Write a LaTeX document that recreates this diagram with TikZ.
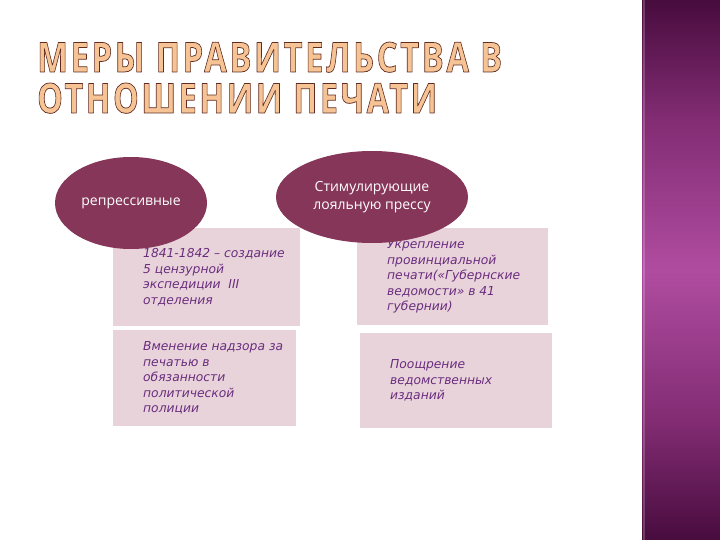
\documentclass[tikz,border=0pt]{standalone}
\usepackage{fontspec}
\usepackage{xcolor}
\usetikzlibrary{shapes.geometric}
\newfontfamily\titlefont[LetterSpace=8]{Open Sans}
\newfontfamily\ovalfont{Open Sans}
\newfontfamily\boxfont{DejaVu Sans}
\definecolor{ovalred}{RGB}{134,54,88}
\definecolor{boxpink}{RGB}{233,211,219}
\definecolor{boxtext}{RGB}{105,45,125}
\definecolor{titlefill}{RGB}{246,196,148}
\definecolor{bardark}{RGB}{72,12,62}
\definecolor{barhalf}{RGB}{130,44,115}
\definecolor{barmid}{RGB}{176,76,160}
\pgfdeclareverticalshading{barshade}{100bp}{
  color(0bp)=(bardark); color(25bp)=(bardark); color(36bp)=(barhalf);
  color(50bp)=(barmid); color(64bp)=(barhalf); color(75bp)=(bardark);
  color(100bp)=(bardark)}
\newcommand{\outlined}[1]{{\color{titlefill}\special{pdf:literal direct 2 Tr 0.18 w 1 j 0.38 0.17 0.13 RG}#1\special{pdf:literal direct 0 Tr}}}

\tikzset{
  oval/.style={ellipse, fill=ovalred, inner sep=0pt, text=white, align=center,
    font=\ovalfont\fontsize{14}{18}\selectfont},
  pinkbox/.style={fill=boxpink, anchor=north west, inner sep=0pt},
  boxtxt/.style={anchor=west, align=left, inner sep=0pt, text=boxtext,
    font=\boxfont\itshape\fontsize{12.3}{15.5}\selectfont}
}

\begin{document}
\begin{tikzpicture}[x=1pt, y=1pt]
    \useasboundingbox (0, 0) rectangle (720, -540);

    % side bar
    \shade[shading=barshade] (642, 0) rectangle (720, -540);
    \fill[white, opacity=0.2] (643, 0) rectangle (645, -540);

    % title
    \node[anchor=base west, inner sep=0pt] (title1) at (37, -72)
        {\resizebox{465pt}{30pt}{\titlefont\bfseries\outlined{МЕРЫ ПРАВИТЕЛЬСТВА В}}};
    \node[anchor=base west, inner sep=0pt] (title2) at (37, -113)
        {\resizebox{400pt}{30pt}{\titlefont\bfseries\outlined{ОТНОШЕНИИ ПЕЧАТИ}}};

    % boxes
    \node[pinkbox, minimum width=187, minimum height=98] (rep1) at (113, -228) {};
    \node[pinkbox, minimum width=183, minimum height=96] (rep2) at (113, -330) {};
    \node[pinkbox, minimum width=191, minimum height=97] (stim1) at (357, -228) {};
    \node[pinkbox, minimum width=192, minimum height=95] (stim2) at (360, -333) {};

    \node[boxtxt] (rep1txt) at ([xshift=30]rep1.west)
        {1841-1842 – создание\\5 цензурной\\экспедиции\ \ III\\отделения};
    \node[boxtxt] (rep2txt) at ([xshift=30]rep2.west)
        {Вменение надзора за\\печатью в\\обязанности\\политической\\полиции};
    \node[boxtxt] (stim1txt) at ([xshift=30]stim1.west)
        {Укрепление\\провинциальной\\печати(«Губернские\\ведомости» в 41\\губернии)};
    \node[boxtxt] (stim2txt) at ([xshift=30]stim2.west)
        {Поощрение\\ведомственных\\изданий};

    % ovals
    \node[oval, minimum width=152, minimum height=92] (rep) at (131, -203) {репрессивные};
    \node[oval, minimum width=192, minimum height=92] (stim) at (372, -197)
        {Стимулирующие\\лояльную прессу};
\end{tikzpicture}
\end{document}
